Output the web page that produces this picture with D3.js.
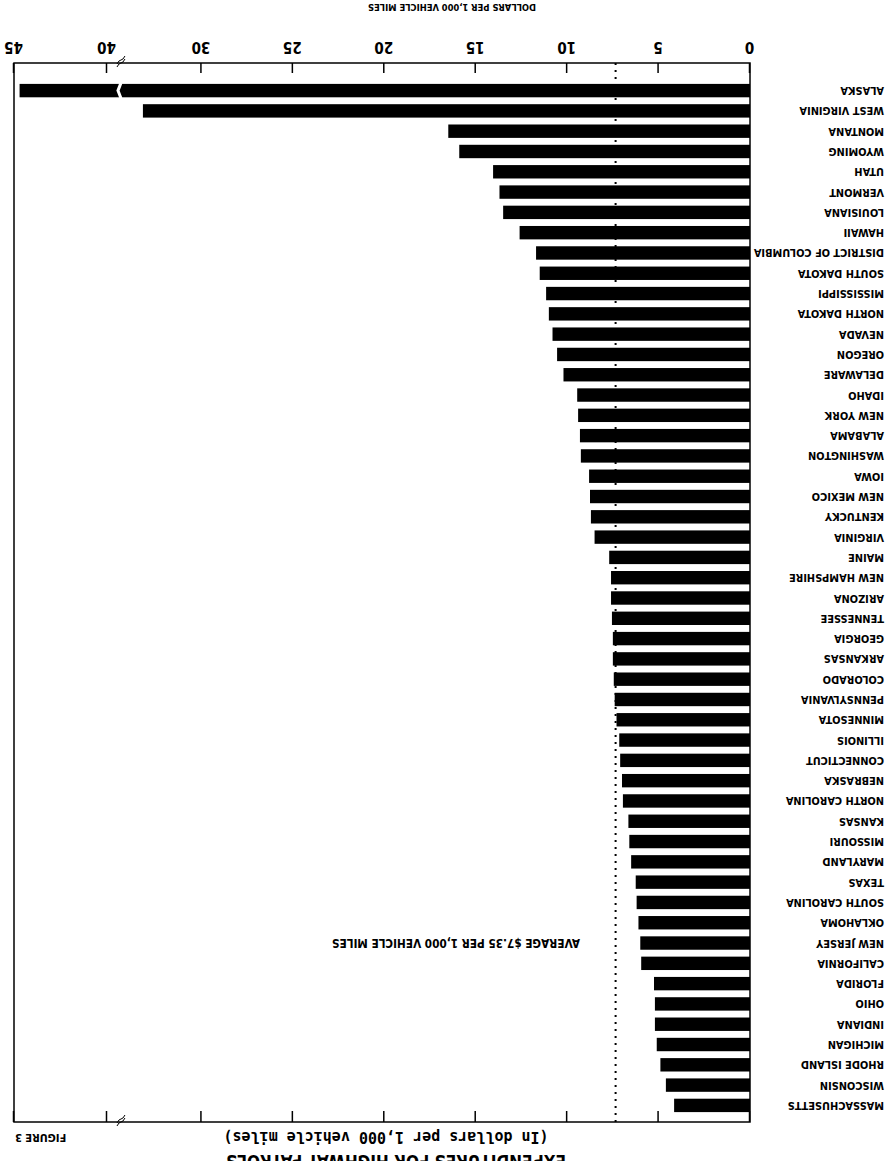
<!DOCTYPE html>
<html>
<head>
<meta charset="utf-8">
<script src="https://cdn.jsdelivr.net/npm/d3@7"></script>
<style>
  body { margin: 0; background: #fff; }
  svg { display: block; }
  .lbl { font-family: "Liberation Sans Narrow", "DejaVu Sans Condensed", sans-serif; font-weight: bold; }
</style>
</head>
<body>
<script>
// scanned figure is upside down, so it is drawn upright and then turned 180 degrees
const states = ['ALASKA', 'WEST VIRGINIA', 'MONTANA', 'WYOMING', 'UTAH', 'VERMONT', 'LOUISIANA', 'HAWAII',
  'DISTRICT OF COLUMBIA', 'SOUTH DAKOTA', 'MISSISSIPPI', 'NORTH DAKOTA', 'NEVADA', 'OREGON', 'DELAWARE',
  'IDAHO', 'NEW YORK', 'ALABAMA', 'WASHINGTON', 'IOWA', 'NEW MEXICO', 'KENTUCKY', 'VIRGINIA', 'MAINE',
  'NEW HAMPSHIRE', 'ARIZONA', 'TENNESSEE', 'GEORGIA', 'ARKANSAS', 'COLORADO', 'PENNSYLVANIA', 'MINNESOTA',
  'ILLINOIS', 'CONNECTICUT', 'NEBRASKA', 'NORTH CAROLINA', 'KANSAS', 'MISSOURI', 'MARYLAND', 'TEXAS',
  'SOUTH CAROLINA', 'OKLAHOMA', 'NEW JERSEY', 'CALIFORNIA', 'FLORIDA', 'OHIO', 'INDIANA', 'MICHIGAN',
  'RHODE ISLAND', 'WISCONSIN', 'MASSACHUSETTS']
const dollars = [44.7, 33.2, 16.5, 15.9, 14.05, 13.7, 13.5, 12.6,
  11.7, 11.5, 11.15, 11.0, 10.8, 10.55, 10.2,
  9.45, 9.4, 9.3, 9.25, 8.8, 8.75, 8.7, 8.5, 7.7,
  7.6, 7.6, 7.55, 7.5, 7.5, 7.45, 7.4, 7.3,
  7.15, 7.1, 7.0, 6.95, 6.65, 6.6, 6.5, 6.25,
  6.2, 6.1, 6.0, 5.95, 5.25, 5.2, 5.2, 5.1,
  4.9, 4.6, 4.15]
const tickValues = [0, 5, 10, 15, 20, 25, 30, 40, 45]
const average = 7.35
const breakValue = 34.4

const W = 886, H = 1161
const frame = { left: 136, right: 872, top: 39, bottom: 1098 }

const svg = d3.select('body').append('svg')
  .attr('width', W).attr('height', H)
  .attr('viewBox', `0 0 ${W} ${H}`)
const g = svg.append('g').attr('transform', `rotate(180, ${W / 2}, ${H / 2})`)

// broken axis: 35..40 is squeezed out
const x = d3.scaleLinear()
  .domain([0, 35, 40, 45])
  .range([frame.left, 776, 779, frame.right])
const y = d3.scaleBand()
  .domain(states.slice().reverse())
  .range([42, 1084])
  .padding(0.34)

const rows = states.map((s, i) => ({ state: s, value: dollars[i] }))

g.append('g').selectAll('rect')
  .data(rows)
  .join('rect')
  .attr('x', frame.left)
  .attr('y', d => y(d.state))
  .attr('width', d => x(d.value) - frame.left)
  .attr('height', y.bandwidth())
  .attr('fill', '#000')

// break cut through the longest bar
const bx = x(breakValue)
const alaskaY = y('ALASKA')
g.append('path')
  .attr('d', `M${bx},${alaskaY - 1} l3,${y.bandwidth() / 2 + 1} l-3,${y.bandwidth() / 2 + 1}`)
  .attr('fill', 'none').attr('stroke', '#fff').attr('stroke-width', 3)

g.append('g').selectAll('text')
  .data(rows)
  .join('text')
  .attr('class', 'lbl')
  .attr('x', 2)
  .attr('y', d => y(d.state) + y.bandwidth() / 2)
  .attr('dominant-baseline', 'central')
  .attr('font-size', 10.9)
  .text(d => d.state)

g.append('rect')
  .attr('x', frame.left).attr('y', frame.top)
  .attr('width', frame.right - frame.left).attr('height', frame.bottom - frame.top)
  .attr('fill', 'none').attr('stroke', '#000').attr('stroke-width', 1.5)

const bottomAxis = g.append('g')
  .attr('transform', `translate(0,${frame.bottom})`)
  .call(d3.axisBottom(x).tickValues(tickValues).tickSize(-10).tickPadding(10).tickFormat(d3.format('d')))
bottomAxis.select('.domain').remove()
bottomAxis.selectAll('text').attr('class', 'lbl').attr('font-size', 15).attr('fill', '#000')
bottomAxis.selectAll('line').attr('stroke', '#000').attr('stroke-width', 1.5)

const topAxis = g.append('g')
  .attr('transform', `translate(0,${frame.top})`)
  .call(d3.axisTop(x).tickValues(tickValues).tickSize(-11).tickFormat(''))
topAxis.select('.domain').remove()
topAxis.selectAll('line').attr('stroke', '#000').attr('stroke-width', 1.5)

// small break marks on both axes
;[frame.top, frame.bottom].forEach(yy => {
  g.append('path')
    .attr('d', `M${bx - 4},${yy + 4} q2,-4 4,-4 q2,0 4,-4 M${bx - 4},${yy + 7} q2,-4 4,-4 q2,0 4,-4`)
    .attr('fill', 'none').attr('stroke', '#000').attr('stroke-width', 1)
})

g.append('line')
  .attr('x1', x(average)).attr('x2', x(average))
  .attr('y1', frame.top).attr('y2', frame.bottom)
  .attr('stroke', '#000').attr('stroke-width', 2)
  .attr('stroke-dasharray', '2,5')

g.append('text')
  .attr('class', 'lbl')
  .attr('x', 306)
  .attr('y', y('NEW JERSEY') + y.bandwidth() / 2)
  .attr('dominant-baseline', 'central')
  .attr('font-size', 11.7)
  .text('AVERAGE $7.35 PER 1,000 VEHICLE MILES')

g.append('text')
  .attr('class', 'lbl')
  .attr('x', 434).attr('y', 1154)
  .attr('text-anchor', 'middle').attr('dominant-baseline', 'central')
  .attr('font-size', 9.3)
  .text('DOLLARS PER 1,000 VEHICLE MILES')

g.append('text')
  .attr('x', 500).attr('y', 24)
  .attr('text-anchor', 'middle').attr('dominant-baseline', 'central')
  .attr('font-family', '"DejaVu Sans Mono", monospace').attr('font-weight', 'bold')
  .attr('font-size', 15)
  .text('(In dollars per 1,000 vehicle miles)')

g.append('text')
  .attr('class', 'lbl')
  .attr('x', 871).attr('y', 24)
  .attr('text-anchor', 'end').attr('dominant-baseline', 'central')
  .attr('font-size', 11)
  .attr('font-weight', 'normal')
  .text('FIGURE 3')

// title line cut off at the edge of the scan
g.append('text')
  .attr('class', 'lbl')
  .attr('x', 490).attr('y', 6)
  .attr('text-anchor', 'middle')
  .attr('font-size', 17)
  .text('EXPENDITURES FOR HIGHWAY PATROLS')
</script>
</body>
</html>
